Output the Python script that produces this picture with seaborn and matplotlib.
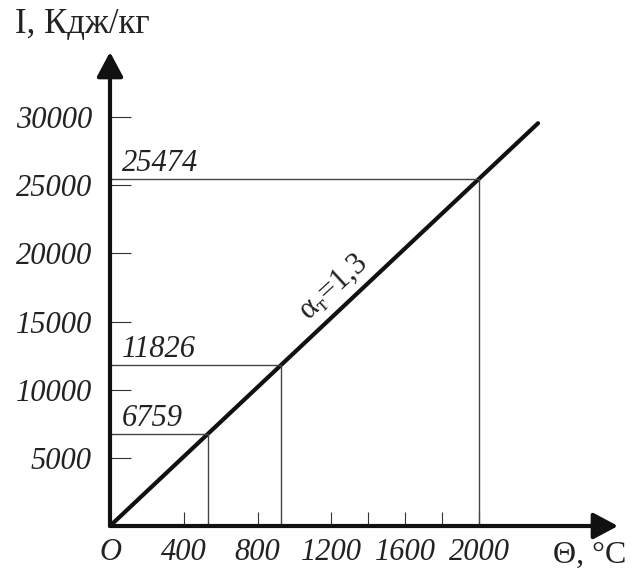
import matplotlib
matplotlib.use("Agg")
import matplotlib.pyplot as plt
import seaborn as sns
import pandas as pd

# Werte
theta_pts = [600, 1000, 2000]          # °C
I_pts = [6759, 11826, 25474]           # Кдж/кг
pt_labels = ["6759", "11826", "25474"]

# Gerade alpha_т = 1,3 (Anfang und Ende)
theta_line = [0, 2320]
I_line = [0, 29550]

x_ticks = [0, 400, 800, 1200, 1600, 2000]
x_ticklabels = ["O", "400", "800", "1200", "1600", "2000"]
x_minor = [1400, 1800]
y_ticks = [5000, 10000, 15000, 20000, 25000, 30000]
y_ticklabels = ["5000", "10000", "15000", "20000", "25000", "30000"]

sns.set_style("white")
plt.rcParams['font.family'] = ['Liberation Serif', 'DejaVu Serif']
plt.rcParams['mathtext.fontset'] = 'custom'
plt.rcParams['mathtext.rm'] = 'Liberation Serif'
plt.rcParams['mathtext.it'] = 'Liberation Serif:italic'

W, H = 637, 575
fig = plt.figure(figsize=(W / 100, H / 100), dpi=100)
# Achsen in Pixeln: Ursprung (110, 526), Pfeilspitzen bei x=618 und y=52
ax = fig.add_axes([110 / W, (H - 526) / H, (618 - 110) / W, (526 - 52) / H])
ax.set_xlim(0, 508 / 0.1845)
ax.set_ylim(0, 474 / 0.01363)

df = pd.DataFrame({"theta": theta_line, "I": I_line})
sns.lineplot(data=df, x="theta", y="I", ax=ax, color="#111111", linewidth=3)

# Hilfslinien bis zur Geraden
slope = I_line[1] / theta_line[1]
for I, lab in zip(I_pts, pt_labels):
    xc = I / slope
    ax.plot([0, xc], [I, I], color="#444444", lw=1.0)
    ax.plot([xc, xc], [0, I], color="#444444", lw=1.0)
    ax.text(65, I + 600, lab, fontsize=22, style="italic", va="baseline", ha="left", color="#222222")

# Achsen mit Pfeilen
for s in ax.spines.values():
    s.set_visible(False)
arrow = dict(arrowstyle="-|>,head_length=0.75,head_width=0.4", lw=3, color="#111111",
             mutation_scale=20, shrinkA=0, shrinkB=0)
ax.annotate("", xy=(1, 0), xytext=(0, 0), xycoords="axes fraction", arrowprops=arrow)
ax.annotate("", xy=(0, 1), xytext=(0, 0), xycoords="axes fraction", arrowprops=arrow)

ax.set_xticks(x_ticks)
ax.set_xticklabels(x_ticklabels, fontsize=22, style="italic", color="#222222")
ax.set_xticks(x_minor, minor=True)
ax.set_yticks(y_ticks)
ax.set_yticklabels(y_ticklabels, fontsize=22, style="italic", color="#222222")
ax.tick_params(axis="x", which="both", bottom=True, direction="in", length=10, width=0.8,
               color="#333333", pad=9)
ax.tick_params(axis="y", left=True, direction="in", length=15, width=0.8, color="#333333", pad=13)
ax.set_xlabel("")
ax.set_ylabel("")

ax.text(1209, 17535, r"$\mathrm{\alpha}_{\mathrm{т}}$=1,3", fontsize=22, rotation=42.5,
        ha="center", va="center", rotation_mode="anchor", color="#222222")

fig.text(15 / W, 1 - 24 / H, "I, Кдж/кг", fontsize=25, ha="left", va="center", color="#222222")
fig.text(553 / W, 1 - 555 / H, "Θ, °C", fontsize=23, ha="left", va="center", color="#222222")

fig.savefig("out.png", dpi=100)
